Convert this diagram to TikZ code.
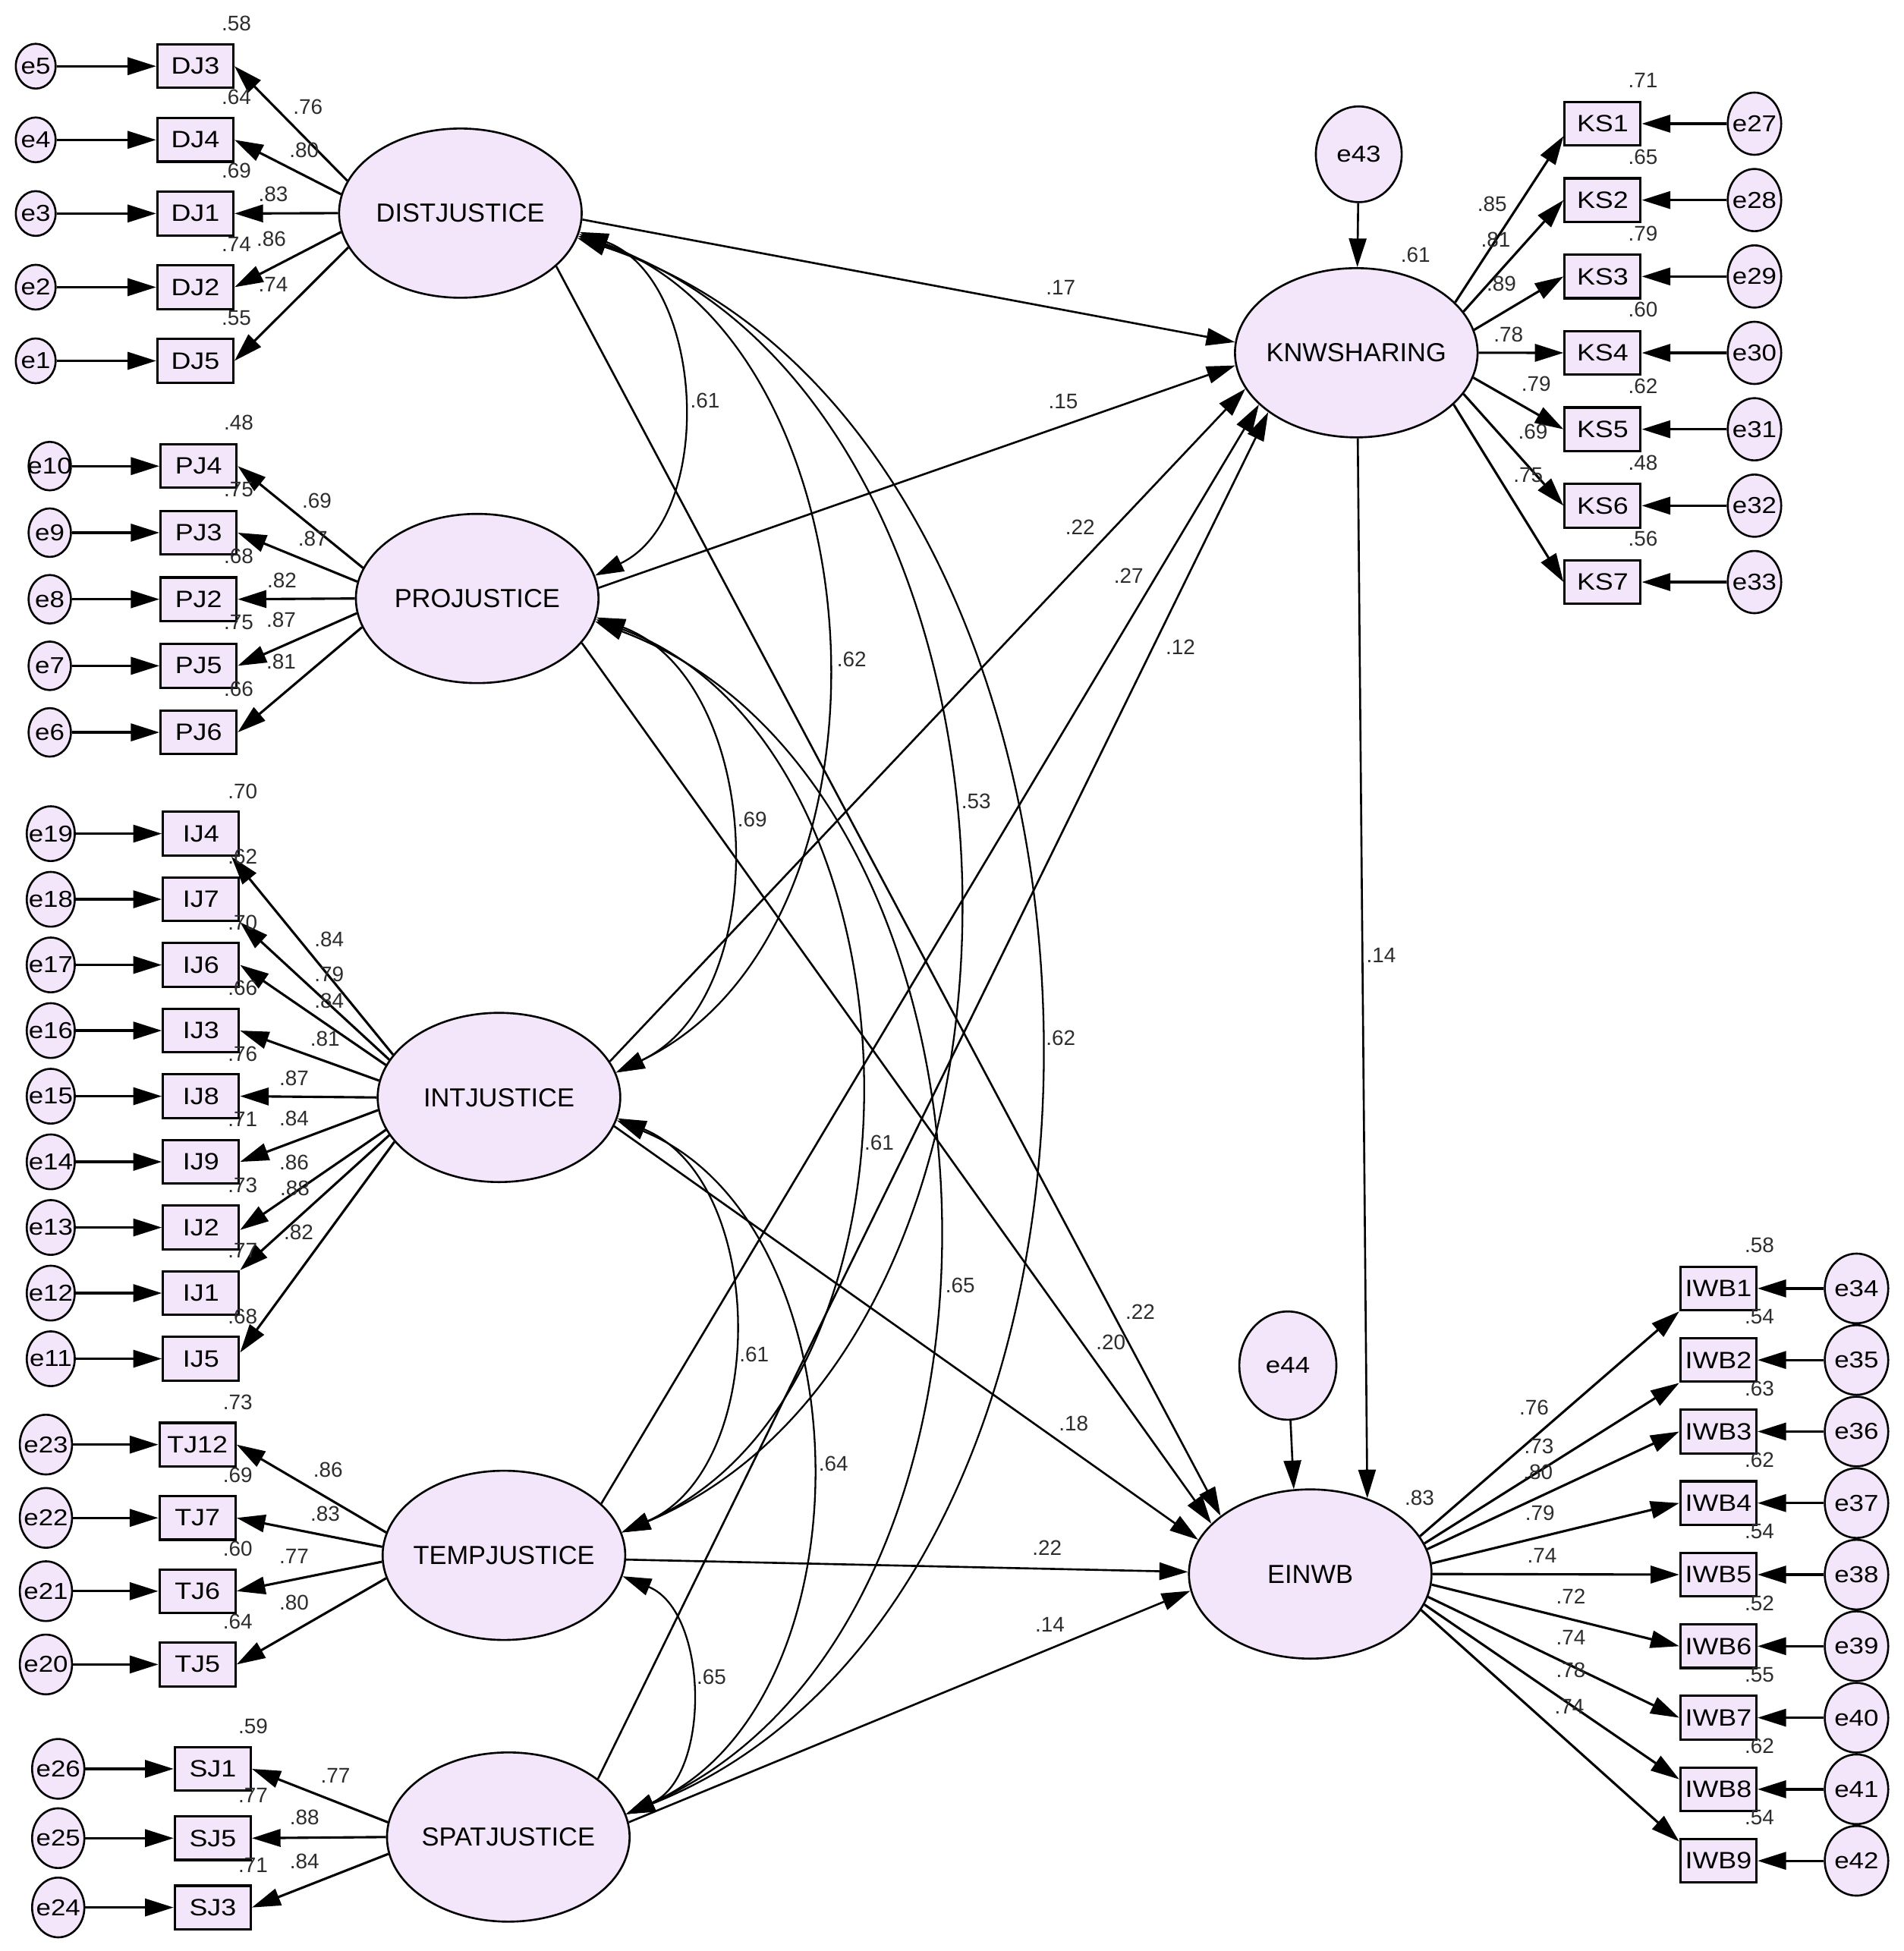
\documentclass[tikz,border=0pt]{standalone}
\usepackage{fontspec}
\setmainfont{Liberation Sans}
\newfontfamily\widefont{Liberation Sans}[FakeStretch=1.15]
\usetikzlibrary{arrows.meta,shapes.geometric,calc}
\definecolor{lav}{RGB}{243,230,251}
\definecolor{numc}{RGB}{45,45,45}
\newcommand{\zz}[1]{\makebox[0pt][c]{#1}}
\newcommand{\covar}[3]{\draw[cv] (#1) .. controls ($(#1)!0.3915!#3:(#2)$) and ($(#2)!0.3915!-#3:(#1)$) .. (#2);}
\tikzset{
  lat/.style={ellipse,draw,fill=lav,line width=1.6pt,minimum width=195pt,minimum height=136pt,inner sep=0pt,font=\fontsize{21}{21}\selectfont},
  obs/.style={rectangle,draw,fill=lav,line width=1.9pt,minimum width=61pt,minimum height=35pt,inner sep=0pt,font=\widefont\fontsize{19}{19}\selectfont},
  err/.style={ellipse,draw,fill=lav,line width=1.6pt,inner sep=0pt,font=\widefont\fontsize{18.5}{18.5}\selectfont},
  val/.style={inner sep=0pt,text=numc,font=\fontsize{17}{17}\selectfont},
  ea/.style={->,line width=2pt},
  ld/.style={->,line width=1.9pt},
  st/.style={->,line width=1.6pt},
  cv/.style={<->,line width=1.4pt},
}
\begin{document}
\begin{tikzpicture}[x=1pt,y=-1pt,>={Triangle[length=23pt,width=14pt]}]
\fill[white] (0,0) rectangle (1530,1568);
\useasboundingbox (0,0) rectangle (1530,1568);

% latent variables
\node[lat] (dist) at (370,171.3) {\zz{DISTJUSTICE}};
\node[lat] (pro) at (383.5,481) {\zz{PROJUSTICE}};
\node[lat] (int) at (401,882) {\zz{INTJUSTICE}};
\node[lat] (temp) at (405,1250) {\zz{TEMPJUSTICE}};
\node[lat] (spat) at (408.5,1476.4) {\zz{SPATJUSTICE}};
\node[lat] (knw) at (1090,283.5) {\zz{KNWSHARING}};
\node[lat] (einwb) at (1053,1265) {\zz{EINWB}};
\node[err,minimum width=69pt,minimum height=77pt] (e43) at (1092,124) {\zz{e43}};
\node[err,minimum width=78pt,minimum height=87pt] (e44) at (1035,1097.5) {\zz{e44}};

% DJ
\foreach \bn/\en/\y/\ang/\rv/\lv/\lx/\ly in {
DJ3/e5/53.2/164.4/.58/.76/247.5/86,
DJ4/e4/112.4/171.4/.64/.80/244.4/120.4,
DJ1/e3/171.6/180/.69/.83/219.5/155.8,
DJ2/e2/230.8/189.4/.74/.86/218/192.3,
DJ5/e1/290/197/.55/.74/219.5/228.7}{
  \node[obs] (\bn) at (157,\y) {\zz{\bn}};
  \node[err,minimum width=32pt,minimum height=36pt] (\en) at (28.7,\y) {\zz{\en}};
  \draw[ea] (\en) -- (\bn);
  \draw[ld] (dist.\ang) -- (\bn.east);
  \node[val] (r\bn) at (190,{\y-34.3}) {\rv};
  \node[val] (l\bn) at (\lx,\ly) {\lv};
}

% PJ
\foreach \bn/\en/\y/\ang/\rv/\lv/\lx/\ly in {
PJ4/e10/374.6/165.8/.48/.69/254.6/402.3,
PJ3/e9/428.1/172.8/.75/.87/251.4/432.8,
PJ2/e8/481.6/180/.68/.82/226.5/466.5,
PJ5/e7/535.1/187.5/.75/.87/225.9/498,
PJ6/e6/588.6/194.5/.66/.81/225.9/532}{
  \node[obs] (\bn) at (159.6,\y) {\zz{\bn}};
  \node[err,minimum width=34pt,minimum height=39pt] (\en) at (40,\y) {\zz{\en}};
  \draw[ea] (\en) -- (\bn);
  \draw[ld] (pro.\ang) -- (\bn.east);
  \node[val] (r\bn) at (191.8,{\y-34.7}) {\rv};
  \node[val] (l\bn) at (\lx,\ly) {\lv};
}

% IJ
\foreach \bn/\en/\y/\ang/\rv/\lv/\lx/\ly/\anc/\dx/\dy in {
IJ4/e19/670/158.4/.70/.84/264.5/755/south east/-7pt/0pt,
IJ7/e18/722.75/161.3/.62/.79/264.5/783.3/south east/0pt/0pt,
IJ6/e17/775.5/164/.70/.84/264.5/804.6/east/0pt/0pt,
IJ3/e16/828.25/172/.66/.81/261.2/835/east/0pt/0pt,
IJ8/e15/881/180/.76/.87/236.4/866.3/east/0pt/0pt,
IJ9/e14/933.75/186.8/.71/.84/236.4/898.7/east/0pt/0pt,
IJ2/e13/986.5/196.4/.73/.86/236.4/934.5/east/0pt/-2pt,
IJ1/e12/1039.25/199.4/.77/.88/237/955/north east/0pt/0pt,
IJ5/e11/1092/203.3/.68/.82/240/990.4/east/0pt/5pt}{
  \node[obs] (\bn) at (161.5,\y) {\zz{\bn}};
  \node[err,minimum width=38.6pt,minimum height=44pt] (\en) at (40.8,\y) {\zz{\en}};
  \draw[ea] (\en) -- (\bn);
  \draw[ld] (int.\ang) -- ([xshift=\dx,yshift=\dy]\bn.\anc);
  \node[val] (r\bn) at (195,{\y-34.2}) {\rv};
  \node[val] (l\bn) at (\lx,\ly) {\lv};
}

% TJ
\foreach \bn/\en/\y/\ang/\rv/\lv/\lx/\ly in {
TJ12/e23/1161/169.3/.73/.86/263.6/1181.4,
TJ7/e22/1219.9/176/.69/.83/261.3/1216.6,
TJ6/e21/1278.8/183.4/.60/.77/236.4/1250.6,
TJ5/e20/1337.7/191.2/.64/.80/236.4/1287.7}{
  \node[obs] (\bn) at (158.7,\y) {\zz{\bn}};
  \node[err,minimum width=42pt,minimum height=48pt] (\en) at (36.9,\y) {\zz{\en}};
  \draw[ea] (\en) -- (\bn);
  \draw[ld] (temp.\ang) -- (\bn.east);
  \node[val] (r\bn) at (191.1,{\y-34.2}) {\rv};
  \node[val] (l\bn) at (\lx,\ly) {\lv};
}

% SJ
\foreach \bn/\en/\y/\ang/\rv/\lv/\lx/\ly in {
SJ1/e26/1421.6/173.2/.59/.77/269.5/1426.8,
SJ5/e25/1477.3/180/.77/.88/244.7/1460.8,
SJ3/e24/1533/188.4/.71/.84/244.7/1496}{
  \node[obs] (\bn) at (171,\y) {\zz{\bn}};
  \node[err,minimum width=42pt,minimum height=48pt] (\en) at (46.8,\y) {\zz{\en}};
  \draw[ea] (\en) -- (\bn);
  \draw[ld] (spat.\ang) -- (\bn.east);
  \node[val] (r\bn) at (203.4,{\y-34.2}) {\rv};
  \node[val] (l\bn) at (\lx,\ly) {\lv};
}

% KS
\foreach \bn/\en/\y/\ang/\rv/\lv/\lx/\ly/\dy in {
KS1/e27/99.4/27/.71/.85/1199.2/163.7/-10pt,
KS2/e28/160.8/21/.65/.81/1202.1/192.5/0pt,
KS3/e29/222.2/11.3/.79/.89/1206.6/228.2/0pt,
KS4/e30/283.6/0/.60/.78/1212.2/268.8/0pt,
KS5/e31/345/-12.2/.62/.79/1234.5/308.7/0pt,
KS6/e32/406.4/-21.3/.48/.69/1232/347.2/0pt,
KS7/e33/467.8/-28.4/.56/.75/1228.2/382/0pt}{
  \node[obs] (\bn) at (1288,\y) {\zz{\bn}};
  \node[err,minimum width=43pt,minimum height=50pt] (\en) at (1410,\y) {\zz{\en}};
  \draw[ea] (\en) -- (\bn);
  \draw[ld] (knw.\ang) -- ([yshift=\dy]\bn.west);
  \node[val] (r\bn) at (1320.4,{\y-34.6}) {\rv};
  \node[val] (l\bn) at (\lx,\ly) {\lv};
}

% IWB
\foreach \bn/\en/\y/\ang/\rv/\lv/\lx/\ly/\anc/\dy in {
IWB1/e34/1035.5/19.3/.58/.76/1232.9/1131.1/south west/0pt,
IWB2/e35/1093/15.6/.54/.73/1236.8/1162.1/south west/0pt,
IWB3/e36/1150.5/12/.63/.80/1236/1183.3/west/0pt,
IWB4/e37/1208/5.4/.62/.79/1237.6/1216/west/0pt,
IWB5/e38/1265.5/0/.54/.74/1239.2/1250/west/0pt,
IWB6/e39/1323/-5.7/.52/.72/1262.4/1283/west/0pt,
IWB7/e40/1380.5/-11.5/.55/.74/1262.4/1316.2/west/0pt,
IWB8/e41/1438/-15.1/.62/.78/1262.4/1342/west/8pt,
IWB9/e42/1495.5/-18.9/.54/.74/1261.2/1371.8/north west/-3pt}{
  \node[obs] (\bn) at (1381,\y) {\zz{\bn}};
  \node[err,minimum width=51pt,minimum height=56pt] (\en) at (1492,\y) {\zz{\en}};
  \draw[ea] (\en) -- (\bn);
  \draw[ld] (einwb.\ang) -- ([yshift=\dy]\bn.\anc);
  \node[val] (r\bn) at (1414,{\y-34.7}) {\rv};
  \node[val] (l\bn) at (\lx,\ly) {\lv};
}

% structural paths
\draw[st] (e43) -- (knw);
\draw[st] (e44) -- (einwb.101);
\draw[st] (dist.-3) -- (knw.175);
\draw[st] (pro.5) -- (knw.186);
\draw[st] (int.18) -- (knw.198.6);
\draw[st] (temp.28.5) -- (knw.208);
\draw[st] (spat.33) -- (knw.214.6);
\draw[st] (dist.-29) -- (einwb.147);
\draw[st] (pro.-23) -- (einwb.153.4);
\draw[st] (int.-14) -- (einwb.163);
\draw[st] (temp.-2) -- (einwb.179);
\draw[st] (spat.7.5) -- (einwb.188);
\draw[st] (knw.-89.5) -- (einwb.53);

% covariances
\covar{dist.-9}{pro.11}{67}
\covar{dist.-10}{int.12}{67}
\covar{dist.-11}{temp.11}{69}
\covar{dist.-12}{spat.11}{70}
\covar{pro.-9}{int.12}{67}
\covar{pro.-10}{temp.11}{68}
\covar{pro.-11}{spat.11}{68}
\covar{int.-10}{temp.11}{67}
\covar{int.-11}{spat.11}{67}
\covar{temp.-10}{spat.11}{67}

% path and covariance values
\node[val] (vknw) at (1137.6,204.6) {.61};
\node[val] (veinwb) at (1140.7,1204) {.83};
\node[val] (s1) at (852.5,231.3) {.17};
\node[val] (s2) at (854.5,322.4) {.15};
\node[val] (s3) at (868,424) {.22};
\node[val] (s4) at (907,462.5) {.27};
\node[val] (s5) at (948.6,520.3) {.12};
\node[val] (s6) at (916.3,1054.4) {.22};
\node[val] (s7) at (892.7,1079) {.20};
\node[val] (s8) at (862.8,1144) {.18};
\node[val] (s9) at (841.4,1244) {.22};
\node[val] (s10) at (843.8,1305.7) {.14};
\node[val] (s11) at (1110,768) {.14};
\node[val] (c1) at (566.6,321.7) {.61};
\node[val] (c2) at (684.5,530) {.62};
\node[val] (c3) at (784.4,643.9) {.53};
\node[val] (c4) at (852.4,834.2) {.62};
\node[val] (c5) at (604.6,658.6) {.69};
\node[val] (c6) at (706.5,918.3) {.61};
\node[val] (c7) at (771.6,1033) {.65};
\node[val] (c8) at (606,1088.3) {.61};
\node[val] (c9) at (669.8,1176.2) {.64};
\node[val] (c10) at (571.7,1348) {.65};
\end{tikzpicture}
\end{document}
